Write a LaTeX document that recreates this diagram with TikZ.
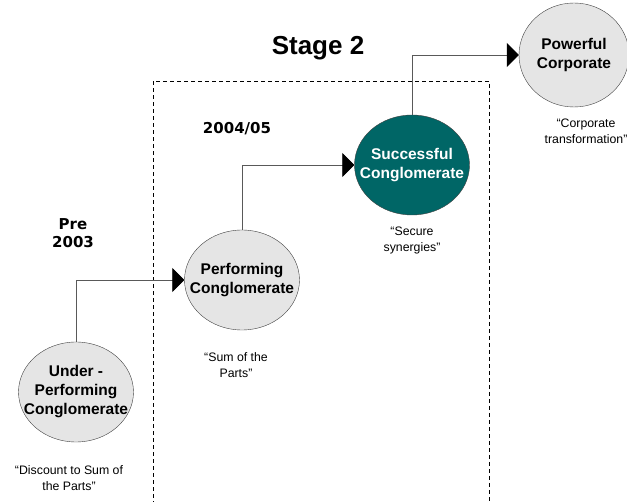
\documentclass[tikz,border=0pt]{standalone}
\usepackage{fontspec}
\setmainfont{Liberation Sans}
\newfontfamily\heavyfont{DejaVu Sans}
\usetikzlibrary{shapes.geometric,arrows.meta}
\definecolor{deepteal}{HTML}{006666}
\begin{document}
\begin{tikzpicture}[x=1pt,y=-1pt,line join=round,
	stagebox/.style={ellipse,draw=black!75,fill=black!10,inner sep=-20pt,minimum width=115pt,minimum height=100pt,align=center,font=\fontsize{15.5}{19}\selectfont\bfseries},
	quote/.style={align=center,font=\fontsize{12.3}{16}\selectfont},
	yearlbl/.style={align=center,font=\heavyfont\bfseries\fontsize{15}{18}\selectfont},
	link/.style={draw=black!65,line width=0.8pt,-{Triangle[length=12pt,width=24pt,color=black]}}]
	\useasboundingbox (0,0) rectangle (627,502);
	% stage frame
	\draw[dash pattern=on 4pt off 3pt,line width=0.8pt] (153,505) |- (489,81) -- (489,505);
	\node[font=\fontsize{26}{30}\selectfont\bfseries] (stage) at (318,48) {Stage 2};
	\node[yearlbl] (pre) at (73,233) {Pre\\2003};
	\node[yearlbl] (year) at (237,129) {2004/05};
	% stages
	\node[stagebox] (under) at (76,392) {Under -\\Performing\\Conglomerate};
	\node[stagebox] (perf) at (242,280) {Performing\\Conglomerate};
	\node[stagebox,fill=deepteal,text=white] (succ) at (412,165) {Successful\\Conglomerate};
	\node[stagebox,minimum width=110pt,minimum height=104pt] (power) at (574,55) {Powerful\\Corporate};
	\draw[link] (under.north) |- (perf.west);
	\draw[link] (perf.north) |- (succ.west);
	\draw[link] (succ.north) |- (power.west);
	% quotes
	\node[quote] (q1) at (69,478) {“Discount to Sum of\\the Parts”};
	\node[quote] (q2) at (236,365) {“Sum of the\\Parts”};
	\node[quote] (q3) at (412,240) {“Secure\\synergies”};
	\node[quote] (q4) at (586,131) {“Corporate\\transformation”};
\end{tikzpicture}
\end{document}
